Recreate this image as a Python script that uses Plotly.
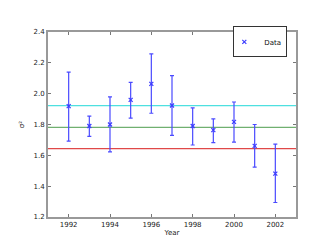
import plotly.graph_objects as go

years = [1992, 1993, 1994, 1995, 1996, 1997, 1998, 1999, 2000, 2001, 2002]
values = [1.919, 1.790, 1.800, 1.960, 2.064, 1.923, 1.790, 1.763, 1.817, 1.661, 1.481]
err_upper = [2.140, 1.854, 1.979, 2.073, 2.258, 2.117, 1.908, 1.836, 1.946, 1.800, 1.673]
err_lower = [1.692, 1.723, 1.623, 1.842, 1.873, 1.730, 1.667, 1.683, 1.686, 1.523, 1.294]
ref_levels = [1.923, 1.781, 1.644]
ref_colors = ["#4ee0e0", "#70b070", "#e04848"]

plus = [u - v for u, v in zip(err_upper, values)]
minus = [v - l for v, l in zip(values, err_lower)]

fig = go.Figure()
fig.add_trace(go.Scatter(
    x=years, y=values, mode="markers", name="Data",
    marker=dict(symbol="x-thin-open", size=4, color="#3b3bff", line=dict(width=1.2, color="#3b3bff")),
    error_y=dict(type="data", symmetric=False, array=plus, arrayminus=minus,
                 color="#4a4aff", thickness=1.2, width=2),
))
for lvl, col in zip(ref_levels, ref_colors):
    fig.add_shape(type="line", xref="paper", x0=0, x1=1, yref="y", y0=lvl, y1=lvl,
                  line=dict(color=col, width=1.2), layer="below")

axis_common = dict(showline=True, mirror="ticks", linecolor="#999999", linewidth=2,
                   ticks="inside", ticklen=3, tickcolor="#777777", showgrid=False,
                   zeroline=False, tickfont=dict(size=7, color="#222222", family="DejaVu Sans"))
fig.update_xaxes(range=[1991, 2003], tickvals=[1992, 1994, 1996, 1998, 2000, 2002],
                 title=dict(text="Year", font=dict(size=7, color="#222222", family="DejaVu Sans"), standoff=2),
                 **axis_common)
fig.update_yaxes(range=[1.2, 2.4], tickvals=[1.2, 1.4, 1.6, 1.8, 2.0, 2.2, 2.4],
                 ticktext=["1.2", "1.4", "1.6", "1.8", "2.0", "2.2", "2.4"],
                 title=dict(text="σ²", font=dict(size=7, color="#222222", family="DejaVu Sans"), standoff=8),
                 **axis_common)
fig.update_layout(
    width=320, height=240, paper_bgcolor="white", plot_bgcolor="white",
    margin=dict(l=40, r=32, t=24, b=24),
    showlegend=True,
    legend=dict(x=0.965, y=1.03, xanchor="right", yanchor="top", bgcolor="white",
                bordercolor="#333333", borderwidth=1, font=dict(size=7, family="DejaVu Sans", color="#111111"),
                itemwidth=30, tracegroupgap=0, indentation=-10),
)
fig.write_html("out.html")
